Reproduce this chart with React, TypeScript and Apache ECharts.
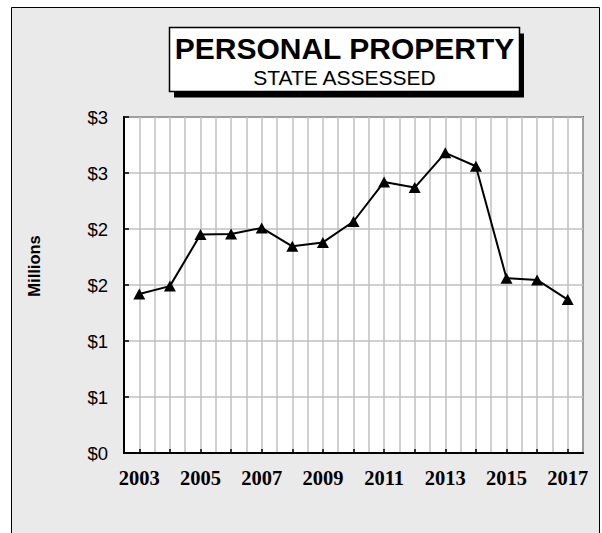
import React, { useEffect, useRef } from 'react';
import * as echarts from 'echarts';

const years = ['2003', '2004', '2005', '2006', '2007', '2008', '2009', '2010', '2011', '2012', '2013', '2014', '2015', '2016', '2017'];
const values = [1.42, 1.49, 1.95, 1.955, 2.01, 1.845, 1.88, 2.067, 2.42, 2.37, 2.68, 2.56, 1.56, 1.545, 1.37];
const yMin = 0;
const yMax = 3;
const yStep = 0.5;
const titleMain = 'PERSONAL PROPERTY';
const titleSub = 'STATE ASSESSED';
const yTitle = 'Millions';

export default function App() {
  const ref = useRef<HTMLDivElement>(null);
  useEffect(() => {
    const chart = echarts.init(ref.current!, null, { renderer: 'svg' });
    chart.setOption({
      animation: false,
      backgroundColor: '#fff',
      grid: {
        left: 124, right: 19, top: 117, bottom: 80,
        show: true, backgroundColor: '#fff', borderColor: '#000', borderWidth: 1.5,
        outerBoundsMode: 'none',
      },
      xAxis: [
        {
          type: 'category', data: years, boundaryGap: true,
          axisLine: { show: true, lineStyle: { color: '#000', width: 2 } },
          axisTick: { show: true, inside: true, alignWithLabel: true, interval: 0, length: 4, lineStyle: { color: '#000', width: 1.5 } },
          axisLabel: { interval: 1, margin: 14, color: '#000', fontFamily: 'Liberation Serif', fontWeight: 'bold', fontSize: 20.5 },
          splitLine: { show: false },
        },
        {
          type: 'value', min: 0, max: years.length * 2, interval: 1, position: 'top',
          axisLine: { show: false }, axisTick: { show: false }, axisLabel: { show: false },
          splitLine: { show: true, lineStyle: { color: '#c0c0c0', width: 1.5 } },
        },
      ],
      yAxis: {
        type: 'value', min: yMin, max: yMax, interval: yStep,
        axisLine: { show: true, lineStyle: { color: '#000', width: 2 } },
        axisTick: { show: true, inside: true, length: 5, lineStyle: { color: '#000', width: 1.5 } },
        axisLabel: {
          formatter: (v: number) => '$' + Math.round(v),
          color: '#000', fontFamily: 'Liberation Sans', fontSize: 18.5, margin: 16,
        },
        splitLine: { show: true, lineStyle: { color: '#c0c0c0', width: 1.5 } },
      },
      series: [
        {
          type: 'line', data: values, xAxisIndex: 0, yAxisIndex: 0,
          symbol: 'triangle', symbolSize: [12, 11], showSymbol: true,
          lineStyle: { color: '#000', width: 2 },
          itemStyle: { color: '#000' },
          z: 5,
        },
      ],
      graphic: [
        { type: 'rect', z: -10, silent: true, shape: { x: 11.5, y: 7.5, width: 588, height: 540 }, style: { fill: '#eaeaea', stroke: '#000', lineWidth: 1 } },
        { type: 'rect', z: 100, silent: true, shape: { x: 174, y: 33.5, width: 350, height: 64 }, style: { fill: '#000' } },
        { type: 'rect', z: 101, silent: true, shape: { x: 169.5, y: 27.5, width: 350, height: 64 }, style: { fill: '#fff', stroke: '#000', lineWidth: 1.5 } },
        { type: 'text', z: 102, silent: true, x: 344.5, y: 48.8, style: { text: titleMain, font: 'bold 30px "Liberation Sans"', fill: '#000', align: 'center', verticalAlign: 'middle' } },
        { type: 'text', z: 102, silent: true, x: 344.5, y: 77, style: { text: titleSub, font: '21px "Liberation Sans"', fill: '#000', align: 'center', verticalAlign: 'middle' } },
        { type: 'text', z: 102, silent: true, x: 34, y: 266, rotation: Math.PI / 2, style: { text: yTitle, font: 'bold 16.5px "Liberation Sans"', fill: '#000', align: 'center', verticalAlign: 'middle' } },
      ],
    });
    return () => chart.dispose();
  }, []);
  return <div ref={ref} style={{ position: 'fixed', left: 0, top: 0, width: 602, height: 533 }} />;
}
